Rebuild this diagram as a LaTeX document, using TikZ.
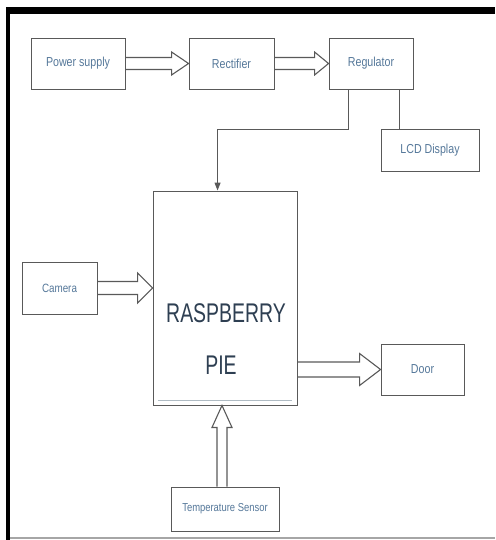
\documentclass[tikz,border=0pt]{standalone}
\usepackage{fontspec}
\setmainfont{Liberation Sans}[FakeStretch=0.82]
\newfontfamily\bigfont{Liberation Sans}[FakeStretch=0.72]
\usetikzlibrary{calc,arrows.meta}
\definecolor{lbl}{HTML}{55789A}
\definecolor{big}{HTML}{2E3F52}
\definecolor{edge}{HTML}{595959}
\begin{document}
\begin{tikzpicture}[x=1pt,y=-1pt,
  box/.style={draw=edge,line width=0.9pt,fill=white,inner sep=0pt,text=lbl,
    font=\fontsize{13}{15}\selectfont},
  harrow/.style n args={3}{draw=edge,line width=1.1pt,line join=miter,
    to path={let \p1=(\tikztostart), \p2=(\tikztotarget) in
      (\x1,\y2+#1) -- (\x2-#3,\y2+#1) -- (\x2-#3,\y2+#2) -- (\x2,\y2)
      -- (\x2-#3,\y2-#2) -- (\x2-#3,\y2-#1) -- (\x1,\y2-#1)}},
  varrow/.style n args={3}{draw=edge,line width=1.1pt,line join=miter,
    to path={let \p1=(\tikztostart), \p2=(\tikztotarget) in
      (\x2-#1,\y1) -- (\x2-#1,\y2-#3) -- (\x2-#2,\y2-#3) -- (\x2,\y2)
      -- (\x2+#2,\y2-#3) -- (\x2+#1,\y2-#3) -- (\x2+#1,\y1)}},
  thin/.style={draw=edge,line width=0.9pt}
]
\useasboundingbox (0,0) rectangle (495,540);
% frame
\fill[black] (6,7) rectangle (495,14);
\fill[black] (6,7) rectangle (10,540);
\draw[gray!70,line width=1.2pt] (10,538) -- (495,538);

\node[box,minimum width=94,minimum height=51] (pow) at (78,63.5) {Power supply};
\node[box,minimum width=85,minimum height=51] (rect) at (231.5,63.5) {Rectifier};
\node[box,minimum width=84,minimum height=51] (reg) at (371,63.5) {Regulator};
\node[box,minimum width=98,minimum height=42] (lcd) at (430,150) {LCD Display};
\node[box,minimum width=144,minimum height=214] (rpi) at (225,298) {};
\node[box,minimum width=75,minimum height=52,font=\fontsize{12}{14}\selectfont] (cam) at (59.5,288) {Camera};
\node[box,minimum width=83,minimum height=51] (door) at (422.5,369.5) {Door};
\node[box,minimum width=108,minimum height=44,font=\fontsize{11.5}{13}\selectfont] (temp) at (225,509) {Temperature Sensor};

\node[text=big,font=\bigfont\fontsize{27}{30}\selectfont,inner sep=0pt] (rasp) at (226,313) {RASPBERRY};
\node[text=big,font=\bigfont\fontsize{27}{30}\selectfont,inner sep=0pt] (pie) at (221,365) {PIE};
\draw[color={rgb,255:red,176;green,188;blue,196},line width=1.4pt]
  ($(rpi.south west)+(5,-5)$) -- ($(rpi.south east)+(-5,-5)$);

% hollow arrows
\draw[harrow={6pt}{11.5pt}{17pt}] (pow.east) to (rect.west);
\draw[harrow={6pt}{11.5pt}{14pt}] (rect.east) to (reg.west);
\draw[harrow={6.5pt}{15pt}{15pt}] (cam.east) to (cam.east -| rpi.west);
\draw[harrow={7.5pt}{16pt}{21pt}] (rpi.east |- door.west) to (door.west);
\draw[varrow={5pt}{10pt}{22pt}] ($(temp.north)+(-3,0)$) to ($(rpi.south)+(-3,0)$);

% thin connectors
\coordinate (rs) at ($(reg.south west)+(20,0)$);
\draw[thin,-{Triangle[width=6pt,length=8pt]}] (rs) -- ++(0,40) -| ($(rpi.north west)+(65,0)$);
\coordinate (rl) at ($(reg.south east)+(-14,0)$);
\draw[thin] (rl) -- (rl |- lcd.north);
\end{tikzpicture}
\end{document}
